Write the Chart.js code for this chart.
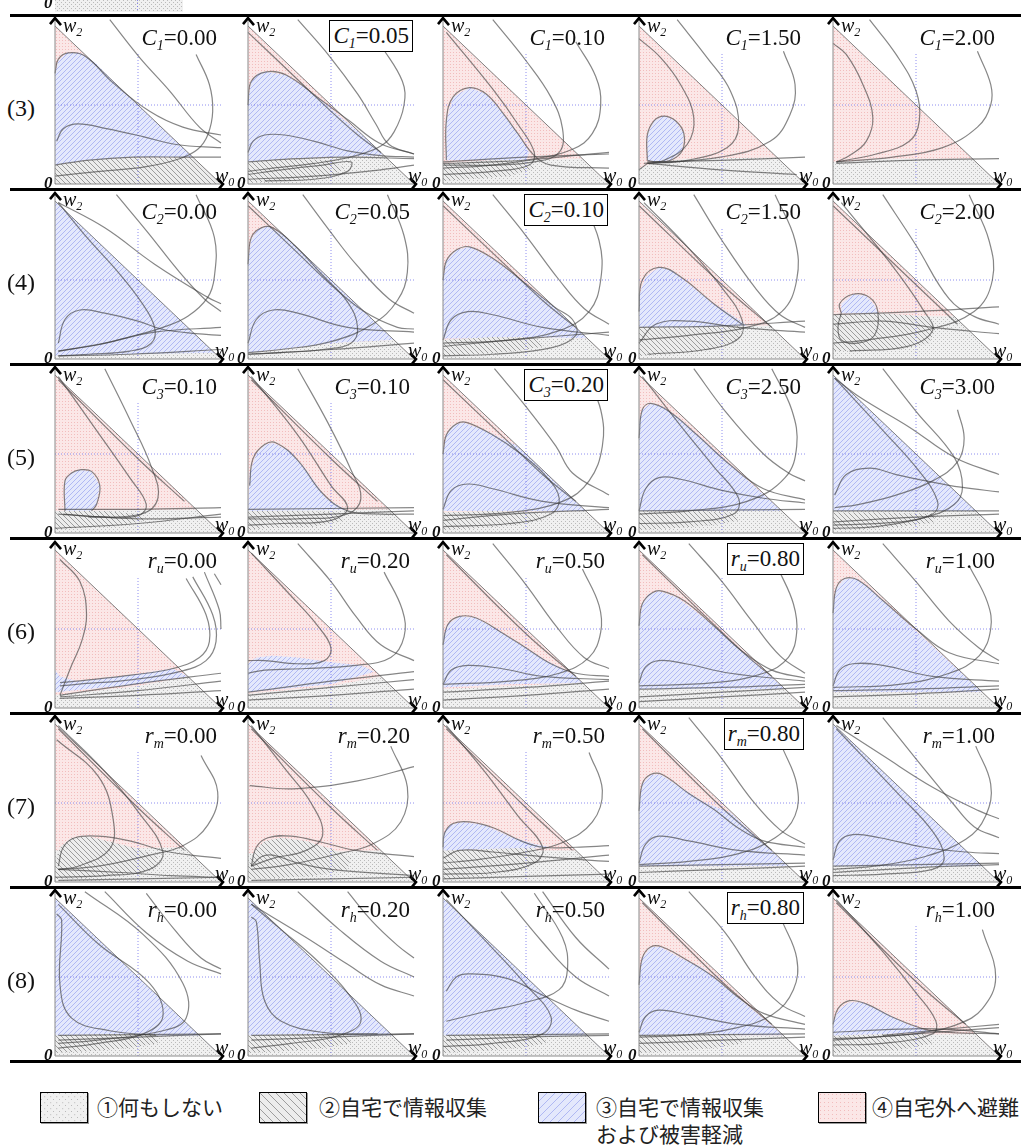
<!DOCTYPE html>
<html>
<head>
<meta charset="utf-8">
<script src="https://cdn.jsdelivr.net/npm/chart.js@4.4.1/dist/chart.umd.min.js"></script>
<style>
  html, body { margin: 0; padding: 0; background: #fff; }
  body { width: 1021px; height: 1147px; position: relative; overflow: hidden; font-family: "Liberation Serif", serif; color: #111; }
  canvas.panel { position: absolute; }
  .sep { position: absolute; left: 10px; width: 1011px; height: 3px; background: #000; z-index: 5; }
  .txt { position: absolute; white-space: nowrap; line-height: 1; z-index: 6; }
  .param { font-size: 23px; height: 32px; line-height: 30px; padding: 0 3px; box-sizing: border-box; }
  .param.boxed { border: 1.5px solid #000; background: #fff; }
  .param i, .ax i { font-style: italic; }
  .param sub { font-size: 14px; font-style: italic; vertical-align: -5px; line-height: 0; }
  .ax { font-size: 20px; }
  .ax sub { font-size: 12px; font-style: italic; vertical-align: -4px; line-height: 0; }
  .zero { font-size: 17px; font-style: italic; font-weight: bold; }
  .rowlbl { font-size: 24px; }
  .legbox { position: absolute; border: 1.5px solid #000; box-shadow: 1px 1px 0 #999; }
  .legtxt { position: absolute; font-family: "Noto Sans CJK JP", sans-serif; font-size: 21px; line-height: 27px; color: #222; white-space: pre; }
</style>
</head>
<body>
<script>
// ---- labels ----
const rowLabels = ["(3)", "(4)", "(5)", "(6)", "(7)", "(8)"];
const paramNames = ["C", "C", "C", "r", "r", "r"];
const paramSubs = ["1", "2", "3", "u", "m", "h"];
const paramValues = [
  ["0.00", "0.05", "0.10", "1.50", "2.00"],
  ["0.00", "0.05", "0.10", "1.50", "2.00"],
  ["0.10", "0.10", "0.20", "2.50", "3.00"],
  ["0.00", "0.20", "0.50", "0.80", "1.00"],
  ["0.00", "0.20", "0.50", "0.80", "1.00"],
  ["0.00", "0.20", "0.50", "0.80", "1.00"],
];
const boxedCol = [1, 2, 2, 3, 3, 3];
const legendLabels = ["①何もしない", "②自宅で情報収集", "③自宅で情報収集\nおよび被害軽減", "④自宅外へ避難"];

// region fill of the whole triangle (1 none, 2 info, 3 info+mitigation, 4 evacuate)
const baseRegion = [
  [4, 4, 4, 4, 4],
  [3, 4, 4, 4, 4],
  [4, 4, 4, 4, 3],
  [4, 4, 4, 4, 4],
  [4, 4, 4, 4, 3],
  [3, 3, 3, 4, 4],
];

// common lines (w0, w2)
const triangle = [[0, 0], [1, 0], [0, 1]];
const diagonal = [[0, 1], [1, 0]];
const gridV = [[0.5, 0], [0.5, 0.83]];
const gridH = [[0, 0.5], [1.0, 0.5]];

// ---- regions drawn over the base, per panel: [type, polygon] ----
const regions3 = [
  [[3, [[0,0.12],[0,0.70],[0.02,0.78],[0.07,0.83],[0.15,0.83],[0.24,0.77],[0.35,0.65],[0.83,0.17],[0.47,0.17],[0.19,0.15]]],
   [2, [[0,0],[1,0],[0.83,0.17],[0.47,0.17],[0.19,0.15],[0,0.12]]]],
  [[3, [[0,0.14],[0,0.53],[0.02,0.65],[0.06,0.70],[0.11,0.71],[0.23,0.69],[0.33,0.62],[0.43,0.54],[0.55,0.43],[0.68,0.32],[0.82,0.18],[0.5,0.17],[0.25,0.16]]],
   [1, [[0,0],[1,0],[0.82,0.18],[0.5,0.17],[0.25,0.16],[0,0.14]]],
   [2, [[0,0.01],[0,0.14],[0.25,0.16],[0.5,0.15],[0.58,0.1],[0.5,0.05],[0.3,0.02]]]],
  [[3, [[0.02,0.15],[0.02,0.4],[0.06,0.55],[0.16,0.61],[0.26,0.57],[0.36,0.45],[0.45,0.32],[0.52,0.2],[0.5,0.15]]],
   [1, [[0,0],[1,0],[0.84,0.16],[0.3,0.15],[0,0.13]]],
   [2, [[0,0.02],[0,0.13],[0.3,0.15],[0.5,0.14],[0.55,0.1],[0.4,0.05],[0.15,0.03]]]],
  [[3, [[0.05,0.15],[0.05,0.31],[0.09,0.40],[0.15,0.43],[0.22,0.40],[0.27,0.32],[0.26,0.21],[0.19,0.15],[0.1,0.14]]],
   [1, [[0,0],[1,0],[0.83,0.17],[0.3,0.16],[0.1,0.14],[0,0.1]]]],
  [[1, [[0,0],[1,0],[0.84,0.16],[0.3,0.16],[0.05,0.14],[0,0.14]]]],
];
const regions4 = [
  [[1, [[0,0],[1,0],[0.96,0.04],[0.4,0.03],[0,0.02]]]],
  [[3, [[0,0.04],[0,0.62],[0.02,0.76],[0.06,0.82],[0.12,0.84],[0.22,0.78],[0.32,0.68],[0.88,0.12],[0.5,0.1],[0.2,0.06]]],
   [1, [[0,0],[1,0],[0.88,0.12],[0.5,0.1],[0.2,0.06],[0,0.04]]]],
  [[3, [[0,0.13],[0,0.5],[0.02,0.62],[0.08,0.69],[0.16,0.71],[0.31,0.63],[0.47,0.5],[0.67,0.33],[0.87,0.13],[0.5,0.14],[0.2,0.13]]],
   [1, [[0,0],[1,0],[0.87,0.13],[0.5,0.14],[0.2,0.13],[0,0.12]]],
   [2, [[0,0.02],[0,0.12],[0.3,0.14],[0.55,0.13],[0.6,0.08],[0.45,0.05],[0.2,0.03]]]],
  [[3, [[0,0.2],[0,0.4],[0.04,0.52],[0.12,0.58],[0.2,0.56],[0.33,0.45],[0.45,0.35],[0.6,0.25],[0.65,0.21],[0.3,0.2]]],
   [1, [[0,0],[1,0],[0.79,0.21],[0,0.2]]],
   [2, [[0,0.02],[0,0.2],[0.3,0.2],[0.62,0.21],[0.6,0.12],[0.45,0.06],[0.2,0.03]]]],
  [[1, [[0,0],[1,0],[0.73,0.27],[0,0.27]]],
   [2, [[0,0.05],[0,0.28],[0.3,0.29],[0.55,0.27],[0.62,0.2],[0.58,0.1],[0.4,0.06],[0.15,0.05]]],
   [3, [[0.05,0.29],[0.05,0.35],[0.12,0.41],[0.2,0.40],[0.25,0.34],[0.27,0.29]]]],
];
const regions5 = [
  [[3, [[0.06,0.14],[0.06,0.33],[0.1,0.38],[0.15,0.40],[0.22,0.39],[0.27,0.3],[0.25,0.18],[0.22,0.14]]],
   [1, [[0,0],[1,0],[0.85,0.15],[0,0.14]]],
   [2, [[0,0.02],[0,0.14],[0.3,0.14],[0.5,0.12],[0.55,0.08],[0.35,0.04],[0.1,0.03]]]],
  [[3, [[0,0.14],[0.01,0.38],[0.05,0.5],[0.1,0.56],[0.15,0.57],[0.25,0.52],[0.35,0.4],[0.47,0.22],[0.6,0.14],[0.3,0.14]]],
   [1, [[0,0],[1,0],[0.85,0.15],[0,0.14]]],
   [2, [[0,0.02],[0,0.14],[0.3,0.14],[0.55,0.13],[0.58,0.08],[0.4,0.04],[0.1,0.03]]]],
  [[3, [[0,0.14],[0,0.5],[0.02,0.62],[0.06,0.68],[0.12,0.7],[0.25,0.65],[0.35,0.6],[0.45,0.55],[0.86,0.14],[0.5,0.14]]],
   [1, [[0,0],[1,0],[0.86,0.14],[0,0.13]]],
   [2, [[0,0.02],[0,0.13],[0.3,0.14],[0.55,0.13],[0.6,0.08],[0.45,0.05],[0.2,0.03]]]],
  [[3, [[0,0.14],[0,0.7],[0.02,0.78],[0.07,0.82],[0.14,0.8],[0.25,0.72],[0.86,0.14],[0.5,0.14]]],
   [1, [[0,0],[1,0],[0.86,0.14],[0,0.14]]],
   [2, [[0,0.02],[0,0.13],[0.3,0.14],[0.55,0.13],[0.6,0.08],[0.45,0.05],[0.2,0.03]]]],
  [[1, [[0,0],[1,0],[0.86,0.14],[0,0.14]]],
   [2, [[0,0.02],[0,0.13],[0.3,0.13],[0.6,0.12],[0.62,0.07],[0.4,0.04],[0.1,0.02]]]],
];
const regions6 = [
  [[1, [[0,0],[1,0],[0.8,0.2],[0.5,0.14],[0,0.08]]],
   [3, [[0,0.1],[0,0.24],[0.03,0.2],[0.13,0.17],[0.47,0.21],[0.71,0.25],[0.8,0.2],[0.5,0.15],[0.2,0.12]]]],
  [[1, [[0,0],[1,0],[0.8,0.2],[0.5,0.14],[0,0.09]]],
   [3, [[0,0.1],[0,0.28],[0.05,0.32],[0.15,0.33],[0.3,0.32],[0.5,0.29],[0.68,0.27],[0.76,0.23],[0.5,0.15],[0.2,0.12]]]],
  [[1, [[0,0],[1,0],[0.84,0.16],[0,0.12]]],
   [3, [[0,0.13],[0,0.45],[0.03,0.53],[0.1,0.58],[0.2,0.57],[0.32,0.5],[0.5,0.38],[0.62,0.3],[0.72,0.25],[0.8,0.2],[0.84,0.16],[0.4,0.15]]]],
  [[3, [[0,0.12],[0,0.55],[0.02,0.66],[0.06,0.72],[0.12,0.74],[0.23,0.7],[0.33,0.62],[0.45,0.52],[0.6,0.38],[0.88,0.12],[0.4,0.12]]],
   [1, [[0,0],[1,0],[0.88,0.12],[0,0.12]]]],
  [[3, [[0,0.1],[0,0.65],[0.02,0.76],[0.07,0.82],[0.14,0.82],[0.22,0.76],[0.9,0.1],[0.4,0.1]]],
   [1, [[0,0],[1,0],[0.9,0.1],[0,0.1]]]],
];
const regions7 = [
  [[1, [[0,0],[1,0],[0.78,0.22],[0,0.2]]],
   [2, [[0,0.02],[0,0.12],[0.03,0.22],[0.1,0.28],[0.2,0.29],[0.35,0.25],[0.5,0.21],[0.62,0.16],[0.6,0.08],[0.4,0.04],[0.1,0.02]]]],
  [[1, [[0,0],[1,0],[0.8,0.2],[0,0.18]]],
   [2, [[0,0.02],[0,0.1],[0.04,0.2],[0.1,0.26],[0.2,0.28],[0.35,0.26],[0.5,0.21],[0.62,0.15],[0.6,0.08],[0.4,0.04],[0.1,0.02]]]],
  [[1, [[0,0],[1,0],[0.8,0.2],[0,0.2]]],
   [2, [[0,0.02],[0,0.2],[0.3,0.21],[0.55,0.22],[0.6,0.15],[0.5,0.08],[0.2,0.03]]],
   [3, [[0,0.2],[0,0.3],[0.04,0.36],[0.12,0.38],[0.25,0.36],[0.4,0.29],[0.55,0.24],[0.65,0.22],[0.3,0.21]]]],
  [[3, [[0,0.1],[0,0.5],[0.02,0.62],[0.07,0.68],[0.13,0.68],[0.25,0.6],[0.4,0.5],[0.55,0.44],[0.9,0.1],[0.4,0.1]]],
   [1, [[0,0],[1,0],[0.9,0.1],[0,0.1]]]],
  [[1, [[0,0],[1,0],[0.9,0.1],[0,0.1]]]],
];
const regions8 = [
  [[1, [[0,0],[1,0],[0.87,0.13],[0,0.13]]],
   [2, [[0,0.02],[0,0.13],[0.3,0.14],[0.6,0.14],[0.62,0.08],[0.45,0.05],[0.2,0.03]]]],
  [[1, [[0,0],[1,0],[0.87,0.13],[0,0.13]]],
   [2, [[0,0.02],[0,0.13],[0.3,0.14],[0.6,0.14],[0.62,0.08],[0.45,0.05],[0.2,0.03]]]],
  [[1, [[0,0],[1,0],[0.87,0.13],[0,0.13]]],
   [2, [[0,0.02],[0,0.13],[0.3,0.14],[0.6,0.14],[0.62,0.08],[0.45,0.05],[0.2,0.03]]]],
  [[3, [[0,0.13],[0,0.5],[0.02,0.62],[0.07,0.69],[0.13,0.69],[0.25,0.62],[0.38,0.56],[0.87,0.13],[0.4,0.13]]],
   [1, [[0,0],[1,0],[0.87,0.13],[0,0.13]]],
   [2, [[0,0.02],[0,0.13],[0.3,0.14],[0.6,0.14],[0.62,0.08],[0.45,0.05],[0.2,0.03]]]],
  [[1, [[0,0],[1,0],[0.86,0.14],[0,0.13]]],
   [2, [[0,0.02],[0,0.13],[0.3,0.14],[0.55,0.14],[0.6,0.08],[0.4,0.04],[0.1,0.03]]],
   [3, [[0,0.13],[0,0.22],[0.04,0.3],[0.1,0.34],[0.18,0.34],[0.3,0.28],[0.45,0.2],[0.6,0.15],[0.3,0.14]]]],
];

// ---- boundary curves per panel ----
const curves3 = [
  [[[0,0.70],[0.02,0.79],[0.08,0.83],[0.18,0.81],[0.35,0.64],[0.57,0.46],[0.77,0.36],[1.0,0.31]],
   [[0.33,1.04],[0.51,0.80],[0.69,0.59],[0.87,0.36],[1.0,0.26]],
   [[0.85,0.82],[0.93,0.63],[0.95,0.46],[0.92,0.31],[0.86,0.22],[0.75,0.16],[0.55,0.11],[0.27,0.08],[0,0.05]],
   [[0.01,0.27],[0.05,0.35],[0.14,0.38],[0.31,0.35],[0.53,0.30],[0.73,0.25],[1.0,0.23]],
   [[0,0.12],[0.19,0.15],[0.47,0.17],[0.79,0.17],[1.0,0.17]]],
  [[[0,0.5],[0.02,0.65],[0.11,0.71],[0.23,0.69],[0.43,0.54],[0.61,0.40],[0.79,0.26],[1.0,0.19]],
   [[0,0.96],[0.3,0.66],[0.5,0.46],[0.65,0.32],[0.8,0.2]],
   [[0.30,1.04],[0.49,0.81],[0.66,0.57],[0.77,0.38],[0.85,0.25],[1.0,0.19]],
   [[0.80,0.88],[0.93,0.65],[0.94,0.5],[0.88,0.33],[0.8,0.24],[0.65,0.18],[0.4,0.13],[0.15,0.1],[0,0.08]],
   [[0,0.2],[0.03,0.27],[0.1,0.31],[0.22,0.31],[0.4,0.27],[0.6,0.21],[0.8,0.18],[1.0,0.17]],
   [[0,0.14],[0.3,0.16],[0.6,0.17],[1.0,0.16]],
   [[0,0.06],[0.2,0.09],[0.45,0.12],[0.62,0.14],[0.6,0.08],[0.4,0.03],[0.1,0.02]],
   [[0,0.03],[0.4,0.05],[0.8,0.09],[1.0,0.12]]],
  [[[0.02,0.15],[0.02,0.4],[0.06,0.55],[0.16,0.61],[0.26,0.57],[0.36,0.45],[0.45,0.32],[0.55,0.18],[0.65,0.12],[1.0,0.1]],
   [[0.02,0.96],[0.3,0.6],[0.45,0.38],[0.55,0.2],[0.52,0.12],[0.3,0.08],[0,0.06]],
   [[0.3,1.04],[0.5,0.78],[0.65,0.55],[0.72,0.35],[0.7,0.2],[0.55,0.14],[0.3,0.12],[0,0.12]],
   [[0.8,0.9],[0.92,0.68],[0.95,0.5],[0.9,0.32],[0.78,0.22],[0.55,0.16],[0.3,0.14],[0,0.13]],
   [[0,0.14],[0.5,0.17],[1.0,0.19]],
   [[0,0.1],[0.3,0.12],[0.6,0.16],[1.0,0.2]]],
  [[[0.05,0.15],[0.05,0.31],[0.09,0.40],[0.15,0.43],[0.22,0.40],[0.27,0.32],[0.26,0.21],[0.19,0.15],[0.1,0.14],[0.05,0.15]],
   [[0,0.92],[0.13,0.80],[0.25,0.63],[0.33,0.42],[0.29,0.25],[0.15,0.15],[0.03,0.13]],
   [[0.23,1.04],[0.41,0.80],[0.55,0.59],[0.60,0.36],[0.53,0.23],[0.29,0.15],[0.05,0.13]],
   [[0.87,0.84],[0.94,0.63],[0.91,0.44],[0.79,0.27],[0.49,0.17],[0.05,0.13]],
   [[0.05,0.14],[0.49,0.15],[1.0,0.17]],
   [[0.05,0.13],[0.49,0.09],[0.95,0.06]],
   [[0,0.09],[0.05,0.13]]],
  [[[0,0.89],[0.08,0.82],[0.18,0.63],[0.24,0.42],[0.20,0.27],[0.10,0.18],[0.02,0.14]],
   [[0.22,1.04],[0.38,0.82],[0.50,0.59],[0.52,0.40],[0.46,0.27],[0.26,0.19],[0.02,0.14]],
   [[0.87,0.84],[0.95,0.63],[0.95,0.5],[0.87,0.36],[0.66,0.23],[0.36,0.17],[0.02,0.14]],
   [[0.02,0.13],[0.46,0.15],[1.0,0.16]]],
];
const curves4 = [
  [[[0.02,0.99],[0.2,0.76],[0.38,0.55],[0.52,0.36],[0.6,0.2],[0.58,0.1],[0.45,0.05],[0.2,0.03],[0.02,0.02]],
   [[0.02,0.99],[0.3,0.83],[0.6,0.6],[0.92,0.39],[1.0,0.35]],
   [[0.37,1.04],[0.56,0.8],[0.75,0.55],[0.9,0.38],[1.0,0.3]],
   [[0.85,1.04],[0.96,0.77],[0.96,0.52],[0.92,0.39],[0.8,0.27],[0.65,0.2],[0.45,0.14],[0.26,0.09],[0.02,0.05]],
   [[0.02,0.1],[0.06,0.25],[0.15,0.31],[0.3,0.29],[0.5,0.24],[0.64,0.19],[0.85,0.16],[1.0,0.15]],
   [[0.02,0.05],[0.3,0.1],[0.6,0.17],[1.0,0.2]],
   [[0.02,0.02],[0.45,0.03],[1.0,0.06]]],
  [[[0,0.6],[0.02,0.77],[0.08,0.83],[0.15,0.83],[0.28,0.72],[0.45,0.53],[0.6,0.36],[0.66,0.2],[0.62,0.1],[0.45,0.06],[0.2,0.04],[0,0.03]],
   [[0,0.97],[0.3,0.67],[0.5,0.47],[0.7,0.3],[0.9,0.2],[1.0,0.19]],
   [[0.33,1.04],[0.5,0.8],[0.65,0.6],[0.85,0.38],[1.0,0.29]],
   [[0.84,1.04],[0.94,0.78],[0.96,0.55],[0.9,0.37],[0.75,0.22],[0.5,0.11],[0.2,0.06],[0,0.04]],
   [[0,0.1],[0.05,0.25],[0.15,0.31],[0.3,0.29],[0.6,0.2],[1.0,0.17]],
   [[0,0.03],[0.5,0.06],[1.0,0.1]]],
  [[[0,0.97],[0.4,0.57],[0.6,0.37],[0.8,0.2]],
   [[0,0.5],[0.02,0.62],[0.08,0.69],[0.16,0.71],[0.31,0.63],[0.47,0.5],[0.67,0.33],[0.78,0.25],[0.8,0.15],[0.65,0.07],[0.3,0.03],[0,0.02]],
   [[0.3,1.04],[0.5,0.78],[0.7,0.5],[0.85,0.32],[1.0,0.22]],
   [[0.82,1.04],[0.94,0.75],[0.95,0.5],[0.88,0.3],[0.7,0.18],[0.4,0.12],[0,0.1]],
   [[0,0.12],[0.05,0.25],[0.15,0.3],[0.3,0.28],[0.6,0.2],[1.0,0.15]],
   [[0,0.08],[0.4,0.12],[1.0,0.17]]],
  [[[0,0.97],[0.5,0.47],[0.8,0.2]],
   [[0.03,0.99],[0.3,0.7],[0.5,0.45],[0.62,0.25],[0.6,0.13],[0.4,0.06],[0.05,0.03]],
   [[0.33,1.04],[0.5,0.75],[0.7,0.45],[0.85,0.28],[1,0.2]],
   [[0.82,1.04],[0.94,0.75],[0.95,0.5],[0.86,0.3],[0.65,0.2],[0.3,0.15],[0,0.12]],
   [[0,0.3],[0.02,0.5],[0.12,0.58],[0.25,0.52],[0.45,0.35],[0.62,0.22]],
   [[0,0.2],[0.5,0.21],[1,0.24]],
   [[0,0.1],[0.1,0.22],[0.3,0.24],[0.6,0.2],[1,0.17]]],
  [[[0.05,0.29],[0.04,0.35],[0.12,0.41],[0.22,0.39],[0.27,0.3],[0.25,0.15],[0.15,0.1],[0.05,0.12],[0.03,0.2],[0.05,0.29]],
   [[0,0.28],[0.5,0.3],[1,0.33]],
   [[0,0.97],[0.5,0.47],[0.75,0.22]],
   [[0.05,0.99],[0.35,0.6],[0.55,0.3],[0.6,0.18],[0.45,0.08],[0.1,0.05]],
   [[0.3,1.04],[0.5,0.72],[0.7,0.38],[0.85,0.27],[1,0.22]],
   [[0.82,1.04],[0.94,0.75],[0.96,0.5],[0.85,0.3],[0.55,0.18],[0.2,0.12],[0,0.1]],
   [[0,0.22],[0.3,0.24],[0.6,0.2],[1.0,0.16]]],
];
const curves5 = [
  [[[0.06,0.14],[0.06,0.33],[0.1,0.38],[0.15,0.40],[0.22,0.39],[0.27,0.3],[0.25,0.18],[0.22,0.14]],
   [[0.02,0.97],[0.5,0.47],[0.78,0.2]],
   [[0.02,0.99],[0.25,0.65],[0.45,0.35],[0.55,0.18],[0.5,0.11],[0.3,0.1],[0.05,0.12]],
   [[0.3,1.04],[0.45,0.72],[0.58,0.42],[0.62,0.22],[0.52,0.12],[0.2,0.1]],
   [[0.02,0.15],[0.5,0.15],[1,0.16]],
   [[0.02,0.12],[0.5,0.09],[1,0.1]],
   [[0,0.03],[0.5,0.06],[1,0.12]]],
  [[[0.01,0.3],[0.03,0.47],[0.1,0.56],[0.17,0.57],[0.3,0.46],[0.45,0.25],[0.6,0.14],[0.8,0.12],[1,0.12]],
   [[0.02,0.97],[0.5,0.47],[0.78,0.2]],
   [[0.02,0.99],[0.3,0.62],[0.5,0.3],[0.6,0.16],[0.5,0.08],[0.2,0.06],[0,0.05]],
   [[0.3,1.04],[0.48,0.7],[0.62,0.4],[0.68,0.22],[0.6,0.12],[0.3,0.09],[0,0.09]],
   [[0,0.15],[1,0.16]],
   [[0,0.1],[0.5,0.12],[1,0.14]]],
  [[[0,0.97],[0.4,0.57],[0.6,0.37],[0.8,0.2]],
   [[0,0.5],[0.02,0.62],[0.08,0.69],[0.14,0.7],[0.3,0.62],[0.47,0.5],[0.62,0.36],[0.7,0.22],[0.65,0.12],[0.4,0.06],[0,0.04]],
   [[0.31,1.04],[0.5,0.8],[0.68,0.55],[0.78,0.38],[1.0,0.24]],
   [[0.86,1.0],[0.95,0.78],[0.96,0.55],[0.88,0.33],[0.72,0.2],[0.4,0.13],[0,0.11]],
   [[0,0.15],[0.05,0.27],[0.15,0.31],[0.3,0.28],[0.6,0.2],[1.0,0.16]],
   [[0,0.08],[0.4,0.12],[1.0,0.15]]],
  [[[0,0.6],[0.02,0.78],[0.07,0.82],[0.18,0.77],[0.35,0.62],[0.55,0.43],[0.75,0.28],[1.0,0.21]],
   [[0.33,1.04],[0.52,0.77],[0.75,0.5],[0.9,0.38],[1.0,0.33]],
   [[0.02,0.99],[0.25,0.68],[0.45,0.42],[0.6,0.22],[0.57,0.12],[0.3,0.07],[0,0.06]],
   [[0.8,1.04],[0.92,0.78],[0.95,0.55],[0.88,0.35],[0.65,0.2],[0.3,0.14],[0,0.12]],
   [[0,0.14],[0.04,0.28],[0.12,0.35],[0.25,0.34],[0.5,0.27],[0.75,0.22],[1,0.19]],
   [[0,0.14],[1,0.15]]],
  [[[0.01,0.98],[0.3,0.65],[0.52,0.39],[0.63,0.2],[0.6,0.12],[0.4,0.07],[0,0.05]],
   [[0.01,0.98],[0.16,0.86],[0.46,0.67],[0.73,0.48],[1.0,0.37]],
   [[0.3,1.04],[0.5,0.77],[0.73,0.48],[0.78,0.29],[0.73,0.18],[0.56,0.1],[0.26,0.04],[0,0.03]],
   [[0.01,0.24],[0.08,0.37],[0.22,0.41],[0.38,0.37],[0.56,0.33],[0.77,0.29],[1.0,0.26]],
   [[0.75,0.78],[0.79,0.6],[0.75,0.45],[0.6,0.33],[0.38,0.24],[0.15,0.18],[0.01,0.16]],
   [[0,0.14],[1,0.14]],
   [[0,0.07],[0.5,0.1],[1,0.12]]],
];
const curves6 = [
  [[[0.03,0.94],[0.15,0.80],[0.19,0.59],[0.16,0.42],[0.1,0.27],[0.03,0.08]],
   [[0.79,0.82],[0.91,0.59],[0.93,0.42],[0.87,0.32],[0.71,0.25],[0.47,0.21],[0.13,0.17],[0.03,0.16]],
   [[0.83,0.83],[0.95,0.59],[0.97,0.42],[0.91,0.3],[0.75,0.23],[0.47,0.18],[0.13,0.15],[0.03,0.14]],
   [[0.9,0.86],[0.99,0.62],[1.0,0.5]],
   [[0.96,0.85],[1.0,0.78]],
   [[0.03,0.08],[0.47,0.15],[1,0.22]],
   [[0.03,0.07],[0.5,0.11],[1,0.17]],
   [[0.03,0.06],[0.5,0.08],[1,0.11]]],
  [[[0.02,0.98],[0.25,0.72],[0.42,0.52],[0.5,0.38],[0.46,0.3],[0.3,0.28],[0.1,0.3],[0,0.3]],
   [[0.82,0.86],[0.93,0.62],[0.94,0.45],[0.86,0.32],[0.65,0.27],[0.35,0.25],[0.1,0.24],[0,0.22]],
   [[0.3,1.04],[0.5,0.8],[0.65,0.58],[0.8,0.4],[1,0.3]],
   [[0,0.1],[0.5,0.17],[1,0.23]],
   [[0,0.08],[0.5,0.13],[1,0.18]],
   [[0,0.05],[0.5,0.08],[1,0.12]]],
  [[[0,0.4],[0.03,0.53],[0.1,0.58],[0.2,0.57],[0.35,0.48],[0.5,0.38],[0.65,0.28],[0.8,0.22],[1,0.2]],
   [[0.02,0.97],[0.5,0.47],[0.8,0.2]],
   [[0.3,1.04],[0.5,0.78],[0.68,0.52],[0.85,0.32],[1,0.25]],
   [[0.84,0.88],[0.94,0.65],[0.95,0.48],[0.88,0.32],[0.7,0.22],[0.4,0.17],[0,0.15]],
   [[0,0.15],[0.05,0.24],[0.15,0.27],[0.35,0.25],[0.6,0.2],[1,0.18]],
   [[0,0.1],[0.5,0.13],[1,0.17]],
   [[0,0.05],[0.5,0.08],[1,0.12]]],
  [[[0,0.52],[0.02,0.66],[0.08,0.73],[0.14,0.74],[0.27,0.68],[0.45,0.52],[0.62,0.36],[0.8,0.24],[1,0.19]],
   [[0.02,0.97],[0.4,0.58],[0.65,0.33],[0.8,0.2]],
   [[0.3,1.04],[0.5,0.8],[0.68,0.55],[0.85,0.33],[1.0,0.22]],
   [[0.84,0.88],[0.93,0.66],[0.95,0.48],[0.9,0.32],[0.75,0.22],[0.45,0.16],[0,0.14]],
   [[0,0.16],[0.04,0.26],[0.12,0.3],[0.28,0.28],[0.55,0.22],[1,0.17]],
   [[0,0.12],[0.5,0.13],[1,0.15]],
   [[0,0.07],[0.5,0.1],[1,0.13]],
   [[0,0.04],[0.5,0.07],[1,0.1]]],
  [[[0,0.6],[0.02,0.76],[0.07,0.82],[0.15,0.81],[0.3,0.68],[0.5,0.5],[0.7,0.35],[1,0.28]],
   [[0.3,1.04],[0.5,0.8],[0.7,0.55],[0.88,0.38],[1,0.3]],
   [[0.82,0.9],[0.93,0.67],[0.95,0.5],[0.88,0.33],[0.7,0.22],[0.4,0.15],[0,0.13]],
   [[0,0.14],[0.04,0.24],[0.12,0.28],[0.3,0.27],[0.6,0.2],[1,0.17]],
   [[0,0.11],[0.5,0.12],[1,0.14]],
   [[0,0.07],[0.5,0.09],[1,0.12]]],
];
const curves7 = [
  [[[0.02,0.97],[0.5,0.47],[0.78,0.2]],
   [[0.01,0.9],[0.26,0.67],[0.35,0.4],[0.33,0.21],[0.14,0.1],[0.02,0.08]],
   [[0.02,0.99],[0.3,0.7],[0.49,0.46],[0.65,0.19],[0.57,0.08],[0.3,0.04],[0,0.03]],
   [[0.88,0.8],[0.98,0.57],[0.92,0.36],[0.77,0.23],[0.57,0.17],[0.26,0.1],[0.02,0.08]],
   [[0.02,0.1],[0.05,0.22],[0.12,0.28],[0.26,0.29],[0.45,0.26],[0.69,0.19],[1,0.15]],
   [[0.02,0.01],[1,0.03]],
   [[0.02,0.08],[0.4,0.06],[0.7,0.04],[1,0.03]]],
  [[[0.01,0.61],[0.27,0.59],[0.66,0.64],[1.0,0.73]],
   [[0.02,0.97],[0.5,0.47],[0.78,0.2]],
   [[0.02,0.99],[0.22,0.72],[0.38,0.5],[0.45,0.3],[0.35,0.2],[0.15,0.15],[0.02,0.1]],
   [[0.86,0.86],[0.96,0.6],[0.92,0.38],[0.75,0.24],[0.55,0.18],[0.25,0.11],[0.02,0.08]],
   [[0.02,0.1],[0.05,0.22],[0.12,0.28],[0.26,0.29],[0.45,0.25],[0.65,0.2],[1,0.16]],
   [[0.02,0.1],[0.08,0.16],[0.15,0.17],[0.3,0.12],[0.5,0.08],[1,0.04]],
   [[0.02,0.01],[1,0.03]]],
  [[[0,0.22],[0.01,0.31],[0.06,0.37],[0.16,0.38],[0.31,0.34],[0.47,0.26],[0.6,0.22],[0.8,0.22],[1,0.23]],
   [[0.02,0.97],[0.5,0.47],[0.78,0.2]],
   [[0.02,0.99],[0.25,0.7],[0.45,0.42],[0.6,0.22],[0.55,0.12],[0.3,0.06],[0,0.05]],
   [[0.88,0.82],[0.96,0.58],[0.9,0.38],[0.72,0.25],[0.5,0.19],[0.2,0.14],[0,0.12]],
   [[0,0.15],[0.1,0.2],[0.3,0.19],[0.6,0.16],[1,0.13]],
   [[0,0.08],[0.5,0.12],[1,0.17]],
   [[0,0.02],[1,0.05]]],
  [[[0,0.45],[0.02,0.62],[0.07,0.68],[0.14,0.68],[0.3,0.56],[0.45,0.46],[0.6,0.34],[0.75,0.26],[1,0.22]],
   [[0.02,0.97],[0.5,0.47],[0.8,0.2]],
   [[0.3,1.04],[0.5,0.78],[0.68,0.52],[0.85,0.33],[1,0.24]],
   [[0.86,0.86],[0.95,0.62],[0.94,0.42],[0.82,0.28],[0.6,0.18],[0.3,0.13],[0,0.11]],
   [[0,0.12],[0.04,0.24],[0.12,0.29],[0.3,0.26],[0.6,0.2],[1,0.17]],
   [[0,0.1],[1,0.12]],
   [[0,0.06],[0.5,0.08],[1,0.1]]],
  [[[0.02,0.97],[0.4,0.55],[0.6,0.32],[0.67,0.15],[0.6,0.08],[0.3,0.05],[0,0.04]],
   [[0.02,0.99],[0.3,0.8],[0.6,0.6],[0.88,0.45],[1,0.4]],
   [[0.3,1.04],[0.5,0.78],[0.72,0.5],[0.85,0.35],[1,0.28]],
   [[0.86,0.86],[0.95,0.62],[0.92,0.42],[0.8,0.27],[0.55,0.16],[0.25,0.1],[0,0.08]],
   [[0,0.14],[0.04,0.26],[0.12,0.3],[0.28,0.28],[0.55,0.22],[0.8,0.19],[1,0.18]],
   [[0,0.1],[0.5,0.11],[1,0.12]],
   [[0,0.06],[0.5,0.09],[1,0.11]]],
];
const curves8 = [
  [[[0.01,0.9],[0.04,0.86],[0.03,0.45],[0.1,0.24],[0.33,0.16],[0.61,0.13]],
   [[0.02,0.96],[0.26,0.71],[0.57,0.46],[0.65,0.25],[0.53,0.14],[0.26,0.08],[0.02,0.05]],
   [[0.18,1.04],[0.53,0.77],[0.77,0.46],[0.79,0.24],[0.65,0.16],[0.26,0.1],[0.02,0.08]],
   [[0.3,1.04],[0.55,0.78],[0.8,0.6],[1,0.52]],
   [[0.55,1.03],[0.72,0.8],[0.88,0.62],[1,0.55]],
   [[0.02,0.13],[1,0.14]],
   [[0.02,0.1],[0.5,0.12],[1,0.14]]],
  [[[0.02,0.88],[0.05,0.85],[0.07,0.6],[0.1,0.35],[0.2,0.22],[0.45,0.15],[0.78,0.14]],
   [[0.02,0.96],[0.2,0.8],[0.4,0.62],[0.6,0.4],[0.68,0.22],[0.55,0.13],[0.26,0.08],[0.02,0.05]],
   [[0.02,0.96],[0.35,0.75],[0.6,0.58],[0.8,0.45],[1,0.38]],
   [[0.3,1.04],[0.55,0.8],[0.8,0.6],[1,0.5]],
   [[0.6,1.04],[0.75,0.85],[0.9,0.7],[1,0.62]],
   [[0.02,0.13],[1,0.14]],
   [[0.02,0.1],[0.5,0.12],[1,0.14]]],
  [[[0.02,0.41],[0.08,0.5],[0.16,0.52],[0.39,0.49],[0.59,0.39],[0.8,0.29],[1,0.22]],
   [[0.55,1.03],[0.72,0.75],[0.75,0.55],[0.7,0.42],[0.5,0.34],[0.25,0.28],[0.02,0.22]],
   [[0.02,0.99],[0.3,0.68],[0.5,0.45],[0.65,0.25],[0.6,0.14],[0.3,0.08],[0,0.06]],
   [[0.35,1.04],[0.6,0.72],[0.8,0.5],[1,0.38]],
   [[0.6,1.04],[0.8,0.75],[1,0.55]],
   [[0.02,0.13],[1,0.14]],
   [[0.02,0.1],[0.5,0.12],[1,0.13]]],
  [[[0,0.45],[0.02,0.62],[0.07,0.69],[0.14,0.69],[0.3,0.6],[0.45,0.5],[0.6,0.37],[0.75,0.27],[1,0.2]],
   [[0.02,0.97],[0.5,0.47],[0.8,0.2]],
   [[0.3,1.04],[0.52,0.78],[0.7,0.5],[0.85,0.33],[1,0.25]],
   [[0.86,0.86],[0.95,0.62],[0.93,0.42],[0.8,0.26],[0.55,0.17],[0.25,0.13],[0,0.12]],
   [[0,0.15],[0.04,0.25],[0.12,0.29],[0.3,0.26],[0.6,0.2],[1,0.17]],
   [[0,0.13],[1,0.14]],
   [[0,0.08],[0.5,0.1],[1,0.12]]],
  [[[0,0.2],[0.03,0.3],[0.1,0.35],[0.2,0.33],[0.35,0.25],[0.55,0.17],[0.7,0.15],[1,0.14]],
   [[0.02,0.97],[0.5,0.47],[0.8,0.2]],
   [[0.02,0.99],[0.3,0.66],[0.5,0.4],[0.62,0.22],[0.6,0.14],[0.3,0.08],[0,0.07]],
   [[0.9,0.8],[0.98,0.5],[0.9,0.3],[0.75,0.2],[0.55,0.15],[0.25,0.12],[0,0.11]],
   [[0,0.15],[0.4,0.17],[0.68,0.17],[1,0.14]],
   [[0,0.1],[0.5,0.14],[1,0.18]],
   [[0.3,0.13],[0.68,0.17],[1,0.2]]],
];

const regionsByRow = [regions3, regions4, regions5, regions6, regions7, regions8];
const curvesByRow = [curves3, curves4, curves5, curves6, curves7, curves8];

// ---- layout ----
const colX = [55, 248, 443, 639, 833];
const sepY = [15, 189, 363.5, 538, 713, 887, 1061];
const unitX = 166, unitY = 158;
const axisTop = 1.05, axisEnd = 1.012;

// pixel-exact tiles so the fills stay even
function makeTile(kind, scale) {
  const s = scale || 1;
  const c = document.createElement("canvas");
  const g = c.getContext("2d");
  if (kind === 1) {
    const n = 4 * s;
    c.width = c.height = n;
    g.fillStyle = "#f0f0f0"; g.fillRect(0, 0, n, n);
    g.fillStyle = "#bababa";
    g.fillRect(0, 0, 1, 1); g.fillRect(2 * s, 2 * s, 1, 1);
  } else if (kind === 2) {
    const n = 5 * s;
    c.width = c.height = n;
    g.fillStyle = "#ececec"; g.fillRect(0, 0, n, n);
    g.fillStyle = "#9c9c9c";
    for (let i = 0; i < n; i++) g.fillRect(i, i, 1, 1);
  } else if (kind === 3) {
    const n = 5 * s;
    c.width = c.height = n;
    g.fillStyle = "#e4e8fc"; g.fillRect(0, 0, n, n);
    g.fillStyle = "#b0b8f3";
    for (let i = 0; i < n; i++) g.fillRect(i, n - 1 - i, 1, 1);
  } else {
    const n = 3 * s;
    c.width = c.height = n;
    g.fillStyle = "#fbe7e7"; g.fillRect(0, 0, n, n);
    g.fillStyle = "#f2bdbd"; g.fillRect(1, 1, 1, 1);
  }
  return c;
}

const patterns = {};
[1, 2, 3, 4].forEach((k) => {
  const tile = makeTile(k);
  patterns[k] = tile.getContext("2d").createPattern(tile, "repeat");
});

function toXY(pts) {
  return pts.map((p) => ({ x: p[0], y: p[1] }));
}

function regionSet(pts, kind, order) {
  return {
    data: toXY(pts), showLine: true, fill: "shape", tension: 0,
    backgroundColor: patterns[kind], borderWidth: 0, pointRadius: 0, order: order,
  };
}

function lineSet(pts, color, width, dash, order, tension) {
  return {
    data: toXY(pts), showLine: true, fill: false, tension: tension || 0,
    borderColor: color, borderWidth: width, borderDash: dash || [],
    pointRadius: 0, order: order,
  };
}

const panelAxes = {
  id: "panelAxes",
  afterDatasetsDraw(chart) {
    const { ctx, scales: { x, y } } = chart;
    const x0 = x.getPixelForValue(0), y0 = y.getPixelForValue(0);
    const yTop = y.getPixelForValue(axisTop), xEnd = x.getPixelForValue(axisEnd);
    ctx.save();
    ctx.strokeStyle = "#8a8a8a"; ctx.lineWidth = 1;
    ctx.beginPath();
    ctx.moveTo(x0, y0); ctx.lineTo(x0, yTop);
    ctx.moveTo(x0, y0); ctx.lineTo(xEnd, y0);
    ctx.stroke();
    ctx.strokeStyle = "#000"; ctx.lineWidth = 2.6; ctx.lineJoin = "miter";
    ctx.beginPath();
    ctx.moveTo(x0 - 5, yTop + 6); ctx.lineTo(x0, yTop); ctx.lineTo(x0 + 6, yTop + 7);
    ctx.stroke();
    ctx.beginPath();
    ctx.moveTo(xEnd - 6, y0 - 6); ctx.lineTo(xEnd, y0); ctx.lineTo(xEnd - 5, y0 + 6);
    ctx.stroke();
    ctx.restore();
  },
};

function addText(html, cls, left, top, extra) {
  const d = document.createElement("div");
  d.className = "txt " + cls;
  d.innerHTML = html;
  d.style.left = left + "px";
  d.style.top = top + "px";
  if (extra) Object.assign(d.style, extra);
  document.body.appendChild(d);
  return d;
}

// ---- panels ----
const CW = 180, CH = 178, padL = 6, padT = 172;
for (let r = 0; r < 6; r++) {
  const oy = Math.round(sepY[r + 1] - 5);
  for (let c = 0; c < 5; c++) {
    const cv = document.createElement("canvas");
    cv.className = "panel";
    cv.width = CW; cv.height = CH;
    cv.style.left = (colX[c] - padL) + "px";
    cv.style.top = (oy - padT) + "px";
    cv.style.width = CW + "px"; cv.style.height = CH + "px";
    document.body.appendChild(cv);

    const datasets = [];
    datasets.push(regionSet(triangle, baseRegion[r][c], 90));
    regionsByRow[r][c].forEach((reg, k) => datasets.push(regionSet(reg[1], reg[0], 80 - k)));
    datasets.push(lineSet(gridV, "rgba(105,105,235,0.75)", 1, [1, 2], 30));
    datasets.push(lineSet(gridH, "rgba(105,105,235,0.75)", 1, [1, 2], 30));
    datasets.push(lineSet(diagonal, "rgba(90,90,90,0.75)", 1, [], 12));
    curvesByRow[r][c].forEach((pts) => datasets.push(lineSet(pts, "rgba(60,60,60,0.62)", 1.2, [], 10, 0.4)));

    const xMin = -padL / unitX, yMax = padT / unitY;
    new Chart(cv.getContext("2d"), {
      type: "scatter",
      data: { datasets: datasets },
      options: {
        responsive: false,
        animation: false,
        devicePixelRatio: 1,
        layout: { padding: 0 },
        events: [],
        plugins: { legend: { display: false }, tooltip: { enabled: false }, title: { display: false } },
        scales: {
          x: { type: "linear", display: false, min: xMin, max: xMin + CW / unitX },
          y: { type: "linear", display: false, min: yMax - CH / unitY, max: yMax },
        },
      },
      plugins: [panelAxes],
    });

    // labels
    const ptxt = "<i>" + paramNames[r] + "</i><sub>" + paramSubs[r] + "</sub>=" + paramValues[r][c];
    const boxed = boxedCol[r] === c;
    addText(ptxt, "param" + (boxed ? " boxed" : ""), 0, Math.round(sepY[r] + (boxed ? 5 : 8)),
      { left: "auto", right: (1021 - (colX[c] + 165)) + "px" });
    addText("<i>w</i><sub>2</sub>", "ax", colX[c] + 8, Math.round(sepY[r]));
    addText("<i>w</i><sub>0</sub>", "ax", colX[c] + 160, oy - 19);
    addText("0", "zero", colX[c] - 11, oy - 10);
  }
  addText(rowLabels[r], "rowlbl", 7, Math.round(sepY[r] + 81));
}

// separators
sepY.forEach((y) => {
  const d = document.createElement("div");
  d.className = "sep";
  d.style.top = Math.round(y - 1) + "px";
  document.body.appendChild(d);
});

// cut-off strip of the previous row
(function () {
  const cv = document.createElement("canvas");
  cv.width = 128; cv.height = 12;
  cv.style.position = "absolute"; cv.style.left = "55px"; cv.style.top = "0px";
  const g = cv.getContext("2d");
  g.fillStyle = patterns[1]; g.fillRect(0, 0, 128, 12);
  g.strokeStyle = "rgba(105,105,235,0.75)"; g.setLineDash([1, 2]);
  g.beginPath(); g.moveTo(82.5, 0); g.lineTo(82.5, 12); g.stroke();
  document.body.appendChild(cv);
  addText("0", "zero", 44, -6);
})();

// legend
const legX = [40, 259, 538, 818];
const legTextX = [97, 319, 596, 872];
legendLabels.forEach((lab, i) => {
  const tile = makeTile(i + 1, 1.6);
  const sw = document.createElement("canvas");
  sw.width = 46; sw.height = 29;
  sw.className = "legbox";
  sw.style.left = legX[i] + "px"; sw.style.top = "1092px";
  const g = sw.getContext("2d");
  g.fillStyle = g.createPattern(tile, "repeat");
  g.fillRect(0, 0, 46, 29);
  document.body.appendChild(sw);
  const t = document.createElement("div");
  t.className = "legtxt";
  t.textContent = lab;
  t.style.left = legTextX[i] + "px"; t.style.top = "1093px";
  document.body.appendChild(t);
});
</script>
</body>
</html>
